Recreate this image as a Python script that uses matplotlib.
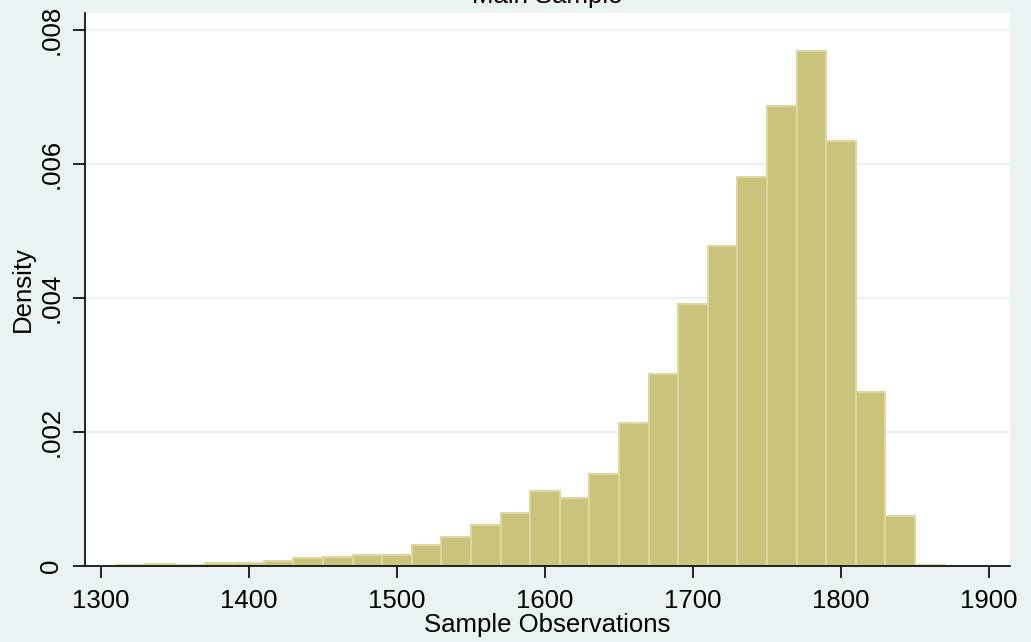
import matplotlib
matplotlib.use("Agg")
import matplotlib.pyplot as plt
import numpy as np

# Data
bin_left = [1310, 1330, 1350, 1370, 1390, 1410, 1430, 1450, 1470, 1490,
            1510, 1530, 1550, 1570, 1590, 1610, 1630, 1650, 1670, 1690,
            1710, 1730, 1750, 1770, 1790, 1810, 1830, 1850]
density = [0.000015, 0.00003, 0.000015, 0.000045, 0.000045, 0.00007, 0.00012, 0.00014, 0.00016, 0.00017,
           0.00031, 0.00043, 0.00061, 0.00079, 0.00112, 0.00102, 0.00137, 0.00214, 0.00287, 0.00391,
           0.00478, 0.00580, 0.00687, 0.00769, 0.00634, 0.00260, 0.00075, 0.00001]
bin_width = 20
x_ticks = [1300, 1400, 1500, 1600, 1700, 1800, 1900]
y_ticks = [0, 0.002, 0.004, 0.006, 0.008]
y_ticklabels = ["0", ".002", ".004", ".006", ".008"]

plt.rcParams['font.family'] = ['Liberation Sans', 'DejaVu Sans']
FS = 18.5
bg = '#EAF2F3'

fig = plt.figure(figsize=(10.31, 6.42), dpi=100, facecolor=bg)
ax = fig.add_axes([85/1031, 1 - 566/642, (1010 - 85)/1031, (566 - 13)/642])
ax.set_facecolor('white')

for yv in y_ticks[1:]:
    ax.axhline(yv, color=bg, lw=1.5, zorder=1)

ax.bar(bin_left, density, width=bin_width, align='edge',
       color='#CAC37C', edgecolor='#DDD8A2', linewidth=1.5, zorder=2)

ax.set_xlim(1289.2, 1914.2)
ax.set_ylim(0, 0.008254)
ax.set_xticks(x_ticks)
ax.set_xticklabels([str(t) for t in x_ticks], fontsize=FS)
ax.set_yticks(y_ticks)
ax.set_yticklabels(y_ticklabels, fontsize=FS, rotation=90, va='center')

for s in ['top', 'right']:
    ax.spines[s].set_visible(False)
for s in ['left', 'bottom']:
    ax.spines[s].set_color('black')
    ax.spines[s].set_linewidth(1.2)
    ax.spines[s].set_zorder(3)

ax.tick_params(axis='x', length=8.6, width=1.2, pad=8, colors='black')
ax.tick_params(axis='y', length=8.6, width=1.2, pad=7, colors='black')

ax.set_xlabel('Sample Observations', fontsize=FS, labelpad=0)
ax.set_ylabel('Density', fontsize=FS, labelpad=3)

fig.text(547.5/1031, 1 - 3.5/642, 'Main Sample', fontsize=FS, ha='center', va='baseline')

fig.savefig('out.png', dpi=100, facecolor=bg)
